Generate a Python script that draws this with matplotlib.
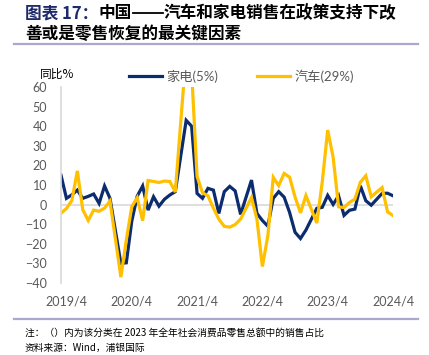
import numpy as np
import matplotlib
matplotlib.use("Agg")
import matplotlib.pyplot as plt
from matplotlib.lines import Line2D

plt.rcParams['font.family'] = ['Lato', 'Noto Sans CJK SC']

# months (Jan is reported together with Feb, so it is missing)
months = (["2019/%d" % m for m in range(3, 13)]
          + ["%d/%d" % (y, m) for y in range(2020, 2024) for m in range(2, 13)]
          + ["2024/2", "2024/3", "2024/4"])

# 家电 YoY %
appliances = [15.0, 3.2, 5.0, 7.4, 3.2, 4.2, 5.4, 0.6, 9.5, 3.2,
              -30.0, -29.7, -8.5, 4.3, 9.5, -2.8, 4.0, -0.8, 2.7, 4.9, 6.6,
              43.0, 40.0, 5.7, 3.2, 8.3, 7.4, -4.5, 6.6, 9.3, 7.0, -5.0,
              12.5, -4.5, -8.1, -11.0, 3.2, 6.6, 3.8, -4.0, -14.1, -17.3, -13.0,
              -1.9, -1.4, 4.7, 0.1, 4.5, -5.5, -2.9, -2.3, 9.6, 2.0, -0.3,
              5.7, 5.8, 4.5]

# 汽车 YoY %
autos = [-4.4, -2.0, 2.1, 17.2, -2.6, -8.1, -2.8, -3.4, -1.8, 1.8,
         -37.0, -18.1, -1.1, 3.5, -8.2, 12.3, 11.8, 11.3, 12.0, 11.8, 6.4,
         77.6, 68.2, 14.4, 6.0, 4.5, -1.8, -7.4, -11.1, -11.5, -10.2, -7.4,
         3.6, -7.5, -31.6, -16.0, 13.9, 9.7, 15.9, 14.0, 3.9, -4.2, 4.6,
         -9.4, 11.5, 38.0, 24.2, -1.1, -1.5, 1.1, 2.8, 11.4, 14.7, 4.0,
         8.7, -3.7, -5.6]

tick_labels = ["2019/4", "2020/4", "2021/4", "2022/4", "2023/4", "2024/4"]
yticks = list(range(-40, 61, 10))


def month_index(s):
    y, m = s.split("/")
    return (int(y) - 2019) * 12 + int(m) - 3


x = np.array([month_index(s) for s in months])
xt = [month_index(s) for s in tick_labels]

W, H = 429, 355
fig = plt.figure(figsize=(W / 100, H / 100), dpi=100)
ax = fig.add_axes([61 / W, 1 - 283 / H, (393 - 61) / W, (283 - 87) / H])

navy = "#0b2c6f"
gold = "#ffc000"
grey = "#595959"

ax.plot(x, appliances, color=navy, lw=2.3, label="家电(5%)", solid_joinstyle="miter")
ax.plot(x, autos, color=gold, lw=2.3, label="汽车(29%)", solid_joinstyle="miter")
ax.axhline(0, color="#d9d9d9", lw=1.2, zorder=0)

ax.set_xlim(x[0], x[-1])
ax.set_ylim(-40, 60)
ax.set_yticks(yticks)
ax.set_xticks(xt)
ax.set_xticklabels(tick_labels)
ax.tick_params(length=0, labelsize=9, colors=grey)
ax.tick_params(axis="y", pad=10)
ax.tick_params(axis="x", pad=9)
for s in ["top", "right", "bottom"]:
    ax.spines[s].set_visible(False)
ax.spines["left"].set_color("#d9d9d9")
ax.spines["left"].set_linewidth(1.2)

fig.text(40 / W, 1 - 74 / H, "同比%", fontsize=8.5, va="center", ha="left",
         color="black", family=["Noto Sans CJK SC"])

leg = fig.legend(loc="center left", bbox_to_anchor=(129 / W, 1 - 76 / H), ncol=2,
                 frameon=False, fontsize=9.5, handlelength=2.5, handletextpad=0.35,
                 columnspacing=2.9, borderaxespad=0, borderpad=0)
for t in leg.get_texts():
    t.set_color(grey)

# title
t1 = fig.text(25 / W, 1 - 13 / H, "图表 17：", fontsize=12, fontweight="bold",
              color="#1f2a6b", va="center", ha="left", family=["Noto Sans CJK SC"])
fig.canvas.draw()
bb = t1.get_window_extent(fig.canvas.get_renderer())
t2 = fig.text(bb.x1 / W, 1 - 13 / H, "中国", fontsize=12,
              fontweight="bold", color="black", va="center", ha="left",
              family=["Noto Sans CJK SC"])
fig.canvas.draw()
bb2 = t2.get_window_extent(fig.canvas.get_renderer())
# long dash drawn as a line so it looks continuous
fig.add_artist(Line2D([(bb2.x1 + 1) / W, (bb2.x1 + 31) / W], [1 - 13 / H, 1 - 13 / H],
                      transform=fig.transFigure, color="black", lw=1.3))
fig.text((bb2.x1 + 32) / W, 1 - 13 / H, "汽车和家电销售在政策支持下改", fontsize=12,
         fontweight="bold", color="black", va="center", ha="left",
         family=["Noto Sans CJK SC"])
fig.text(25 / W, 1 - 34 / H, "善或是零售恢复的最关键因素", fontsize=12, fontweight="bold",
         color="black", va="center", ha="left", family=["Noto Sans CJK SC"])

for yy in [43.5, 319]:
    fig.add_artist(Line2D([14 / W, 418 / W], [1 - yy / H, 1 - yy / H],
                          transform=fig.transFigure, color="#aaa8cc", lw=1.6))

fig.text(25 / W, 1 - 333 / H, "注：（）内为该分类在 2023 年全年社会消费品零售总额中的销售占比",
         fontsize=7, va="center", ha="left", family=["Noto Sans CJK SC"])
fig.text(25 / W, 1 - 348 / H, "资料来源：Wind，浦银国际", fontsize=7, va="center",
         ha="left", family=["Noto Sans CJK SC"])

fig.savefig("out.png", dpi=100)
